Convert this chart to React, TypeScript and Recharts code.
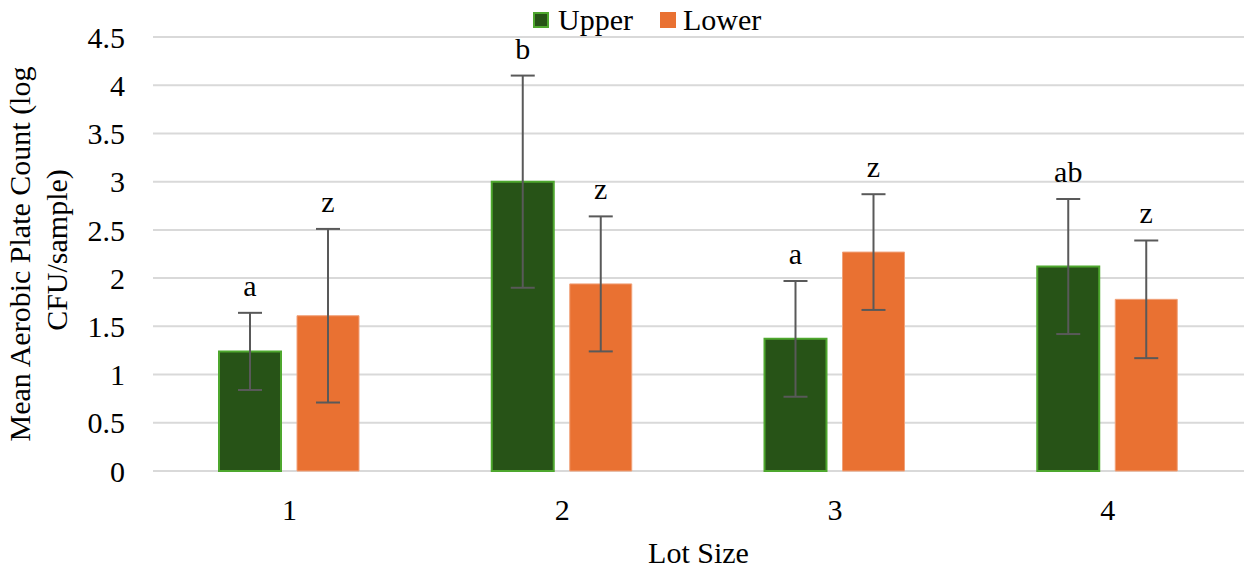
import React from 'react';
import { BarChart, Bar, XAxis, YAxis, CartesianGrid, ErrorBar, LabelList, Legend, Label } from 'recharts';

const categories = ['1', '2', '3', '4'];
const upperValues = [1.24, 3.0, 1.37, 2.12];
const lowerValues = [1.61, 1.94, 2.27, 1.78];
const upperErrors = [0.40, 1.10, 0.60, 0.70];
const lowerErrors = [0.90, 0.70, 0.60, 0.61];
const upperLetters = ['a', 'b', 'a', 'ab'];
const lowerLetters = ['z', 'z', 'z', 'z'];
const yTicks = [0, 0.5, 1, 1.5, 2, 2.5, 3, 3.5, 4, 4.5];

const data = categories.map((c, i) => ({
  lot: c,
  upper: upperValues[i],
  lower: lowerValues[i],
  upperErr: upperErrors[i],
  lowerErr: lowerErrors[i],
  upperLetter: upperLetters[i],
  lowerLetter: lowerLetters[i],
}));

const FONT = '"Liberation Serif", "Times New Roman", serif';
const GREEN = '#275317';
const GREEN_BORDER = '#4EA72E';
const ORANGE = '#E97132';
const ORANGE_BORDER = '#F1A27A';

const makeLetterLabel = (vals: number[], errs: number[]) => (props: any) => {
  const { x, y, width, height, value, index } = props;
  const v = vals[index];
  const pxPerUnit = v ? Math.abs(height) / v : 0;
  const errTop = y - errs[index] * pxPerUnit;
  return (
    <text x={x + width / 2} y={errTop - 17} textAnchor="middle" fontFamily={FONT} fontSize={30} fill="#000">
      {value}
    </text>
  );
};

const renderLegend = () => (
  <div style={{ display: 'flex', alignItems: 'center', height: 37, boxSizing: 'border-box', paddingTop: 3, fontFamily: FONT, fontSize: 30, color: '#000' }}>
    <span style={{ width: 16, height: 16, boxSizing: 'border-box', background: GREEN, border: `2px solid ${GREEN_BORDER}`, marginRight: 9 }} />
    <span>Upper</span>
    <span style={{ width: 16, height: 16, boxSizing: 'border-box', background: ORANGE, marginLeft: 27, marginRight: 7 }} />
    <span>Lower</span>
  </div>
);

const YTitle = () => {
  const cy = 254;
  return (
    <g>
      <text transform={`translate(30, ${cy}) rotate(-90)`} textAnchor="middle" fontFamily={FONT} fontSize={30} fill="#000">
        Mean Aerobic Plate Count (log
      </text>
      <text transform={`translate(67, ${cy - 4}) rotate(-90)`} textAnchor="middle" fontFamily={FONT} fontSize={30} fill="#000">
        CFU/sample)
      </text>
    </g>
  );
};

const XTitle = (props: any) => {
  const vb = props.viewBox || {};
  return (
    <text x={vb.x + vb.width / 2} y={563} textAnchor="middle" fontFamily={FONT} fontSize={30} fill="#000">
      Lot Size
    </text>
  );
};

export default function App() {
  return (
    <div style={{ position: 'absolute', left: 0, top: 0, width: 1244, height: 571, background: '#fff' }}>
      <BarChart
        width={1244}
        height={571}
        data={data}
        margin={{ top: 0, right: 0, bottom: 40, left: 0 }}
        barSize={62}
        barGap={16}
      >
        <CartesianGrid horizontal vertical={false} stroke="#d9d9d9" strokeWidth={2} />
        <XAxis
          dataKey="lot"
          height={60}
          axisLine={false}
          tickLine={false}
          tickSize={0}
          tickMargin={28}
          tick={{ fontFamily: FONT, fontSize: 30, fill: '#000' }}
        >
          <Label content={XTitle} />
        </XAxis>
        <YAxis
          width={153}
          domain={[0, 4.5]}
          ticks={yTicks}
          interval={0}
          axisLine={false}
          tickLine={false}
          tickSize={0}
          tickMargin={28}
          tick={{ fontFamily: FONT, fontSize: 30, fill: '#000' }}
        >
          <Label content={YTitle} />
        </YAxis>
        <Legend verticalAlign="top" align="left" content={renderLegend} wrapperStyle={{ top: 0, left: 533, width: 'auto' }} />
        <Bar dataKey="upper" name="Upper" fill={GREEN} stroke={GREEN_BORDER} strokeWidth={2} isAnimationActive={false}>
          <ErrorBar dataKey="upperErr" width={12} stroke="#595959" strokeWidth={2} direction="y" />
          <LabelList dataKey="upperLetter" content={makeLetterLabel(upperValues, upperErrors)} />
        </Bar>
        <Bar dataKey="lower" name="Lower" fill={ORANGE} stroke={ORANGE_BORDER} strokeWidth={1} isAnimationActive={false}>
          <ErrorBar dataKey="lowerErr" width={12} stroke="#595959" strokeWidth={2} direction="y" />
          <LabelList dataKey="lowerLetter" content={makeLetterLabel(lowerValues, lowerErrors)} />
        </Bar>
      </BarChart>
    </div>
  );
}
